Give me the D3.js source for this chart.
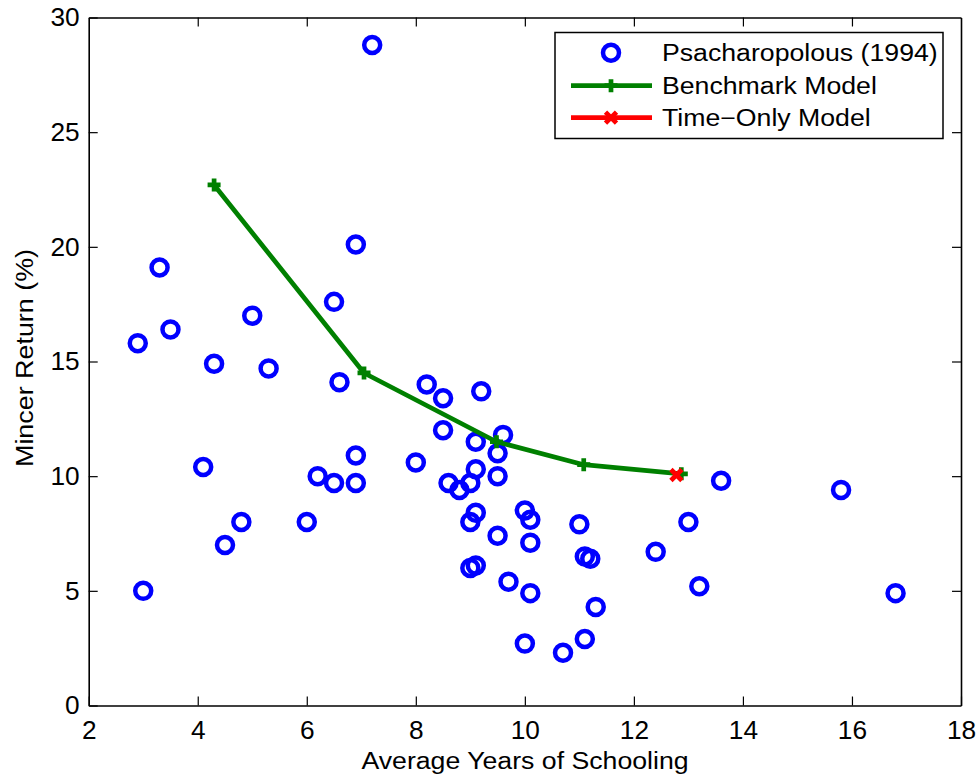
<!DOCTYPE html>
<html>
<head>
<meta charset="utf-8">
<script src="https://cdn.jsdelivr.net/npm/d3@7"></script>
<style>
  body { margin: 0; background: #fff; }
  svg { display: block; font-family: "Liberation Sans", Arial, Helvetica, sans-serif; }
</style>
</head>
<body>
<div id="chart"></div>
<script>
var width = 980,
    height = 780;

// Psacharopolous (1994) country data: years of schooling, Mincer return
var schoolYears = [2.9, 3.0, 3.3, 3.5, 4.1, 4.3, 4.5, 4.8, 5.0, 5.3,
    6.0, 6.2, 6.5, 6.5, 6.6, 6.9, 6.9, 6.9, 7.2, 8.0,
    8.2, 8.5, 8.5, 8.6, 8.8, 9.0, 9.0, 9.0, 9.1, 9.1,
    9.1, 9.1, 9.2, 9.5, 9.5, 9.5, 9.6, 9.7, 10.0, 10.1,
    10.1, 10.1, 10.0, 10.7, 11.0, 11.1, 11.2, 11.1, 11.3, 12.4,
    13.0, 13.2, 13.6, 15.8, 16.8];
var minceReturn = [15.8, 5.0, 19.1, 16.4, 10.4, 14.9, 7.0, 8.0, 17.0, 14.7,
    8.0, 10.0, 9.7, 17.6, 14.1, 10.9, 9.7, 20.1, 28.8, 10.6,
    14.0, 13.4, 12.0, 9.7, 9.4, 9.7, 8.0, 6.0, 6.1, 8.4,
    10.3, 11.5, 13.7, 11.0, 10.0, 7.4, 11.8, 5.4, 8.5, 8.1,
    7.1, 4.9, 2.7, 2.3, 7.9, 6.5, 6.4, 2.9, 4.3, 6.7,
    8.0, 5.2, 9.8, 9.4, 4.9];

// model lines
var benchYears = [4.3, 7.05, 9.48, 11.08, 12.87];
var benchReturn = [22.7, 14.5, 11.5, 10.5, 10.1];
var timeYears = [12.78];
var timeReturn = [10.05];

var legendLabels = ["Psacharopolous (1994)", "Benchmark Model", "Time\u2212Only Model"];
var xTicks = [2, 4, 6, 8, 10, 12, 14, 16, 18];
var yTicks = [0, 5, 10, 15, 20, 25, 30];

var stretch = 1.16;     // text in the reference is set a bit wide
var tickStretch = 1.05;

var svg = d3.select("#chart").append("svg")
    .attr("width", width)
    .attr("height", height);

var plotLeft = 88.7, plotRight = 961, plotTop = 17.5, plotBottom = 705.5;

var x = d3.scaleLinear().domain([2, 18]).range([plotLeft, plotRight]);
var y = d3.scaleLinear().domain([0, 30]).range([plotBottom, plotTop]);

// axes (ticks point inward, box on all sides)
var gx = svg.append("g")
    .attr("transform", "translate(0," + plotBottom + ")")
    .call(d3.axisBottom(x).tickValues(xTicks).tickSizeInner(-9).tickSizeOuter(0).tickFormat(d3.format("d")));
gx.selectAll("text")
    .attr("y", 34).attr("dy", null)
    .attr("transform", "scale(" + tickStretch + ",1)");

var gy = svg.append("g")
    .attr("transform", "translate(" + plotLeft + ",0)")
    .call(d3.axisLeft(y).tickValues(yTicks).tickSizeInner(-9).tickSizeOuter(0).tickFormat(d3.format("d")));
gy.selectAll("text")
    .attr("x", -9 / tickStretch).attr("dy", "0.33em")
    .attr("transform", "scale(" + tickStretch + ",1)");

var gTop = svg.append("g")
    .attr("transform", "translate(0," + plotTop + ")")
    .call(d3.axisTop(x).tickValues(xTicks.slice(1, -1)).tickSizeInner(-9).tickSizeOuter(0).tickFormat(""));
var gRight = svg.append("g")
    .attr("transform", "translate(" + plotRight + ",0)")
    .call(d3.axisRight(y).tickValues(yTicks.slice(1, -1)).tickSizeInner(-9).tickSizeOuter(0).tickFormat(""));

[gx, gy, gTop, gRight].forEach(function(g) {
    g.select(".domain").attr("stroke", "#000").attr("stroke-width", 1.6);
    g.selectAll(".tick line").attr("stroke", "#000").attr("stroke-width", 1.2);
    g.selectAll("text").attr("fill", "#000").style("font-size", "25px")
        .style("font-family", "'Liberation Sans', Arial, Helvetica, sans-serif");
});

// axis titles
svg.append("text")
    .attr("transform", "translate(525,769) scale(" + stretch + ",1)")
    .attr("text-anchor", "middle")
    .style("font-size", "23px")
    .text("Average Years of Schooling");

svg.append("text")
    .attr("transform", "translate(33,358) rotate(-90) scale(" + 1.12 + ",1)")
    .attr("text-anchor", "middle")
    .style("font-size", "24px")
    .text("Mincer Return (%)");

// scatter
var pts = schoolYears.map(function(d, i) { return {x: d, y: minceReturn[i]}; });
svg.selectAll(".dot")
    .data(pts)
    .enter().append("circle")
    .attr("class", "dot")
    .attr("cx", function(d) { return x(d.x); })
    .attr("cy", function(d) { return y(d.y); })
    .attr("r", 8)
    .attr("fill", "none")
    .attr("stroke", "#0000ff")
    .attr("stroke-width", 4.5);

// benchmark line
var bench = benchYears.map(function(d, i) { return [d, benchReturn[i]]; });
var line = d3.line().x(function(d) { return x(d[0]); }).y(function(d) { return y(d[1]); });
svg.append("path")
    .datum(bench)
    .attr("d", line)
    .attr("fill", "none")
    .attr("stroke", "#008000")
    .attr("stroke-width", 4.7)
    .attr("stroke-linejoin", "round");

function plusMark(sel, cx, cy) {
    sel.append("path")
        .attr("d", "M" + (cx - 6.5) + "," + cy + "H" + (cx + 6.5) + "M" + cx + "," + (cy - 6.5) + "V" + (cy + 6.5))
        .attr("stroke", "#008000")
        .attr("stroke-width", 4.7)
        .attr("fill", "none");
}
function crossMark(sel, cx, cy) {
    sel.append("path")
        .attr("d", "M" + (cx - 5.5) + "," + (cy - 5.5) + "L" + (cx + 5.5) + "," + (cy + 5.5) + "M" + (cx + 5.5) + "," + (cy - 5.5) + "L" + (cx - 5.5) + "," + (cy + 5.5))
        .attr("stroke", "#ff0000")
        .attr("stroke-width", 4.7)
        .attr("fill", "none");
}

bench.forEach(function(d) { plusMark(svg, x(d[0]), y(d[1])); });

// time-only model
var timePts = timeYears.map(function(d, i) { return [d, timeReturn[i]]; });
svg.append("path")
    .datum(timePts)
    .attr("d", line)
    .attr("fill", "none")
    .attr("stroke", "#ff0000")
    .attr("stroke-width", 4.7);
timePts.forEach(function(d) { crossMark(svg, x(d[0]), y(d[1])); });

// legend
var lg = svg.append("g");
lg.append("rect")
    .attr("x", 555).attr("y", 32.5)
    .attr("width", 388).attr("height", 106)
    .attr("fill", "#fff")
    .attr("stroke", "#000")
    .attr("stroke-width", 1.5);

var rowY = [52.7, 85.7, 117.7];
lg.append("circle")
    .attr("cx", 611).attr("cy", rowY[0]).attr("r", 8)
    .attr("fill", "none").attr("stroke", "#0000ff").attr("stroke-width", 4.5);
lg.append("line")
    .attr("x1", 571).attr("x2", 652).attr("y1", rowY[1]).attr("y2", rowY[1])
    .attr("stroke", "#008000").attr("stroke-width", 4.7);
plusMark(lg, 611, rowY[1]);
lg.append("line")
    .attr("x1", 571).attr("x2", 652).attr("y1", rowY[2]).attr("y2", rowY[2])
    .attr("stroke", "#ff0000").attr("stroke-width", 4.7);
crossMark(lg, 611, rowY[2]);

lg.selectAll(".lab")
    .data(legendLabels)
    .enter().append("text")
    .attr("class", "lab")
    .attr("transform", function(d, i) { return "translate(662," + (rowY[i] + 8) + ") scale(" + stretch + ",1)"; })
    .style("font-size", "23px")
    .text(function(d) { return d; });
</script>
</body>
</html>
